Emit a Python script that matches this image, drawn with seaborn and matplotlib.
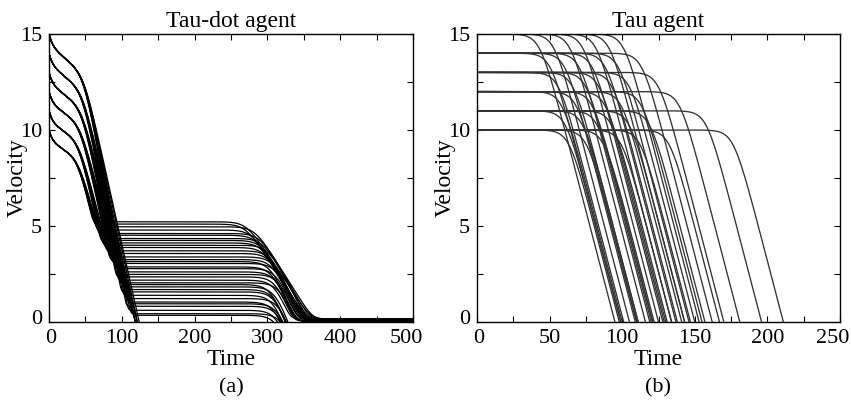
import numpy as np
import pandas as pd
import matplotlib
matplotlib.use("Agg")
import matplotlib.pyplot as plt
from matplotlib.ticker import MultipleLocator
from matplotlib.transforms import ScaledTranslation
import seaborn as sns

# ---- Tau-dot agent (a): one group of curves per starting speed ----
dot_starts = [10, 11, 12, 13, 14, 15]
dot_onset = [40, 41, 43, 45, 46, 48]          # time where the steep braking begins
dot_slope = [0.15, 0.16, 0.16, 0.17, 0.18, 0.19]
dot_creep = [0.020, 0.022, 0.024, 0.026, 0.028, 0.030]
dot_fan = [1.10, 1.07, 1.03, 1.00, 0.97, 0.93, 0.90]   # spread of braking within a group
dot_plateaus = [
    [5.22, 5.10, 4.96, 4.79, 4.61, 4.52, 4.35],
    [4.25, 4.12, 4.00, 3.88, 3.71, 3.57, 3.39],
    [3.25, 3.15, 3.05, 2.87, 2.78, 2.61, 2.48],
    [2.35, 2.18, 2.04, 1.95, 1.83, 1.69, -0.40],
    [1.57, 1.39, 1.22, 1.04, 0.95, -0.30, -1.00],
    [0.82, 0.61, 0.43, 0.35, -0.20, -0.80, -2.00],
]
# time at which the second braking brings each curve down to rest
dot_rest = [
    [360, 356, 362, 354, 358, 352, 355],
    [352, 348, 355, 346, 350, 347, 349],
    [344, 340, 346, 338, 342, 339, 341],
    [336, 332, 338, 330, 334, 331, 330],
    [331, 327, 333, 325, 329, 330, 330],
    [328, 324, 330, 322, 330, 330, 330],
]

# ---- Tau agent (b): time each curve reaches zero speed ----
tau_starts = [10, 11, 12, 13, 14, 15]
tau_stops = [
    [98, 110, 122, 134, 147, 167, 211],
    [99, 111, 121, 131, 143, 157, 196],
    [100, 110, 121, 130, 141, 155, 181],
    [101, 111, 120, 129, 138, 150, 170],
    [99, 109, 119, 128, 137, 146, 162],
    [95, 105, 116, 125, 134, 143, 153],
]
tau_decel = 0.29


def softplus(x):
    return np.logaddexp(0, x)


t = np.linspace(0, 500, 2501)
rows = []
k = 0
for gi, v0 in enumerate(dot_starts):
    b, ts = dot_creep[gi], dot_onset[gi]
    for j, (p, te) in enumerate(zip(dot_plateaus[gi], dot_rest[gi])):
        a = dot_slope[gi] * dot_fan[j]
        g = v0 - 0.6 * (1 - np.exp(-t / 5)) - b * t - (a - b) * 6 * softplus((t - ts) / 6)
        v1 = p + 0.2 * softplus((g - p) / 0.2)
        c = 0.13 - 0.014 * max(p, 0.3)
        floor = (0.05 if k % 2 else 0.15) if p >= 2 else -0.5
        kk = 0.3 if p >= 2 else 0.1
        t0 = te - (p - floor) / c
        v_lin = v1 - c * 8 * softplus((t - t0) / 8)
        v = floor + kk * softplus((v_lin - floor) / kk)
        rows.append(pd.DataFrame({"Time": t, "Velocity": v, "curve": k}))
        k += 1
dot_df = pd.concat(rows, ignore_index=True)

t2 = np.linspace(0, 250, 1251)
rows = []
k = 0
s = 4.0
for v0, stops in zip(tau_starts, tau_stops):
    for te in stops:
        tb = te - s * np.log(np.expm1(v0 / (tau_decel * s)))
        v = v0 - tau_decel * s * softplus((t2 - tb) / s)
        rows.append(pd.DataFrame({"Time": t2, "Velocity": v, "curve": k}))
        k += 1
tau_df = pd.concat(rows, ignore_index=True)

sns.set_style("ticks")
plt.rcParams["font.family"] = ["Liberation Serif", "DejaVu Serif"]
plt.rcParams["font.size"] = 16
for key in ["text.color", "axes.labelcolor", "xtick.color", "ytick.color"]:
    plt.rcParams[key] = "black"

fig = plt.figure(figsize=(8.51, 4.05), dpi=100)
ax1 = fig.add_axes([49 / 851, 83 / 405, 364 / 851, 288 / 405])
ax2 = fig.add_axes([477 / 851, 83 / 405, 363 / 851, 288 / 405])

sns.lineplot(data=dot_df, x="Time", y="Velocity", units="curve", estimator=None,
             color="black", linewidth=0.9, sort=False, ax=ax1)
sns.lineplot(data=tau_df, x="Time", y="Velocity", units="curve", estimator=None,
             color="#333333", linewidth=0.95, sort=False, ax=ax2)

for ax, xmax, xmaj, title, tag in [(ax1, 500, 100, "Tau-dot agent", "(a)"),
                                   (ax2, 250, 50, "Tau agent", "(b)")]:
    ax.set_xlim(0, xmax)
    ax.set_ylim(0, 15)
    ax.xaxis.set_major_locator(MultipleLocator(xmaj))
    ax.xaxis.set_minor_locator(MultipleLocator(xmaj / 2))
    ax.yaxis.set_major_locator(MultipleLocator(5))
    ax.yaxis.set_minor_locator(MultipleLocator(2.5))
    ax.tick_params(which="both", direction="in", top=True, right=True,
                   length=4, width=0.8, labelsize=16, pad=5)
    for sp in ax.spines.values():
        sp.set_linewidth(1.0)
        sp.set_color("black")
    ax.set_title(title, fontsize=17, pad=5)
    ax.set_xlabel("Time", fontsize=17)
    ax.set_ylabel("Velocity", fontsize=17)
    ax.xaxis.set_label_coords(0.5, -0.095)
    ax.yaxis.set_label_coords(-0.058, 0.5)
    pos = ax.get_position()
    fig.text(pos.x0 + pos.width / 2, 0.042, tag, ha="center", va="center", fontsize=16)

fig.canvas.draw()
for ax, xmax in [(ax1, 500), (ax2, 250)]:
    for tick in ax.xaxis.get_major_ticks():
        if abs(tick.get_loc() - xmax) < 1e-6:
            tick.label1.set_transform(tick.label1.get_transform()
                                      + ScaledTranslation(-7 / 100, 0, fig.dpi_scale_trans))
        if abs(tick.get_loc()) < 1e-6:
            tick.label1.set_transform(tick.label1.get_transform()
                                      + ScaledTranslation(2 / 100, 0, fig.dpi_scale_trans))
    for tick in ax.yaxis.get_major_ticks():
        if abs(tick.get_loc()) < 1e-6:
            tick.label1.set_transform(tick.label1.get_transform()
                                      + ScaledTranslation(0, 5 / 100, fig.dpi_scale_trans))

fig.savefig("out.png", dpi=100)
